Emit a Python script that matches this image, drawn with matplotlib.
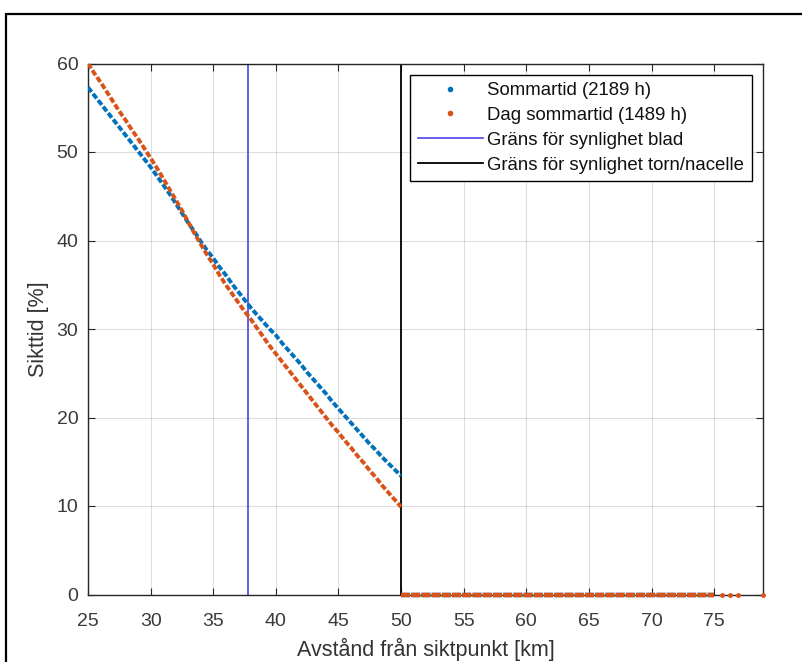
import matplotlib
matplotlib.use("Agg")
import matplotlib.pyplot as plt
from matplotlib.lines import Line2D
from matplotlib.patches import Rectangle

plt.rcParams['font.family'] = ['Liberation Sans', 'DejaVu Sans']

# ---------------- data ----------------
dist = [25.0, 25.5, 26.0, 26.5, 27.0, 27.5, 28.0, 28.5, 29.0, 29.5,
        30.0, 30.5, 31.0, 31.5, 32.0, 32.5, 33.0, 33.5, 34.0, 34.5,
        35.0, 35.5, 36.0, 36.5, 37.0, 37.5, 38.0, 38.5, 39.0, 39.5,
        40.0, 40.5, 41.0, 41.5, 42.0, 42.5, 43.0, 43.5, 44.0, 44.5,
        45.0, 45.5, 46.0, 46.5, 47.0, 47.5, 48.0, 48.5, 49.0, 49.5, 50.0]

sommartid = [57.3, 56.4, 55.5, 54.6, 53.7, 52.8, 51.9, 51.0, 50.1, 49.2,
             48.3, 47.3, 46.3, 45.3, 44.2, 43.1, 42.0, 41.0, 39.9, 38.9,
             38.0, 37.0, 36.1, 35.1, 34.2, 33.3, 32.4, 31.6, 30.8, 30.0,
             29.3, 28.4, 27.6, 26.8, 26.0, 25.1, 24.3, 23.5, 22.7, 21.8,
             21.0, 20.2, 19.4, 18.6, 17.8, 17.0, 16.3, 15.5, 14.8, 14.1, 13.4]

dag_sommartid = [60.0, 58.9, 57.9, 56.8, 55.7, 54.6, 53.6, 52.5, 51.5, 50.4,
                 49.3, 48.2, 47.0, 45.8, 44.6, 43.4, 42.1, 40.8, 39.6, 38.4,
                 37.3, 36.1, 35.0, 34.0, 33.0, 32.0, 31.1, 30.1, 29.1, 28.1,
                 27.2, 26.3, 25.4, 24.5, 23.6, 22.7, 21.8, 20.9, 20.0, 19.1,
                 18.3, 17.4, 16.6, 15.7, 14.9, 14.0, 13.2, 12.3, 11.5, 10.7, 9.9]

# beyond the tower/nacelle limit the visibility time is zero
tail_dist = [50.0, 50.5, 51.0, 51.5, 52.0, 52.5, 53.0, 53.5, 54.0, 54.5,
             55.0, 55.5, 56.0, 56.5, 57.0, 57.5, 58.0, 58.5, 59.0, 59.5,
             60.0, 60.5, 61.0, 61.5, 62.0, 62.5, 63.0, 63.5, 64.0, 64.5,
             65.0, 65.5, 66.0, 66.5, 67.0, 67.5, 68.0, 68.5, 69.0, 69.5,
             70.0, 70.5, 71.0, 71.5, 72.0, 72.5, 73.0, 73.5, 74.0, 74.5, 75.0]
tail_values = [0.0] * len(tail_dist)
sparse_dist = [75.6, 76.3, 76.9, 78.9]
sparse_values = [0.0, 0.0, 0.0, 0.0]

blade_limit = 37.74
tower_limit = 50.0

labels = ['Sommartid (2189 h)', 'Dag sommartid (1489 h)',
          'Gräns för synlighet blad', 'Gräns för synlighet torn/nacelle']
xticks = [25, 30, 35, 40, 45, 50, 55, 60, 65, 70, 75]
yticks = [0, 10, 20, 30, 40, 50, 60]

# ---------------- style ----------------
BLUE = '#0072BD'
ORANGE = '#D95319'
VBLUE = '#4646E6'
AXC = '#262626'

fig = plt.figure(figsize=(8.03, 6.62), dpi=100)
ax = fig.add_axes([88 / 803, 1 - 594.5 / 662, (763 - 88) / 803, (594.5 - 63.5) / 662])

dash = (0, (1.5, 0.6))
ax.plot(dist, sommartid, color=BLUE, lw=2.8, ls=dash, zorder=3)
ax.plot(dist, dag_sommartid, color=ORANGE, lw=2.8, ls=dash, zorder=3)
ax.plot(tail_dist, tail_values, color=BLUE, lw=3.2, ls=(0, (2.0, 0.3)), zorder=3, clip_on=False)
ax.plot(tail_dist, tail_values, color=ORANGE, lw=3.2, ls=(0, (2.0, 0.3)), zorder=4, clip_on=False)
ax.plot(sparse_dist, sparse_values, color=ORANGE, ls='none', marker='.', ms=5,
        zorder=4, clip_on=False)

ax.axvline(blade_limit, color=VBLUE, lw=1.2, zorder=2)
ax.axvline(tower_limit, color='black', lw=1.3, zorder=2)

ax.set_xlim(25, 78.9)
ax.set_ylim(0, 60)
ax.set_xticks(xticks)
ax.set_yticks(yticks)
ax.grid(True, color=AXC, alpha=0.15, lw=0.8)
ax.set_axisbelow(True)

for s in ax.spines.values():
    s.set_color(AXC)
    s.set_linewidth(1.0)
ax.tick_params(direction='in', length=5, width=0.8, colors=AXC,
               top=True, right=True, labelsize=14)
ax.tick_params(axis='x', pad=13)
ax.tick_params(axis='y', pad=7)
for t in ax.get_xticklabels() + ax.get_yticklabels():
    t.set_color('#3a3a3a')

ax.set_xlabel('Avstånd från siktpunkt [km]', fontsize=15.5, color='#333333', labelpad=6)
ax.set_ylabel('Sikttid [%]', fontsize=15.5, color='#333333', labelpad=5)

handles = [
    Line2D([], [], color=BLUE, marker='.', ls='none', ms=6),
    Line2D([], [], color=ORANGE, marker='.', ls='none', ms=6),
    Line2D([], [], color=VBLUE, lw=1.2),
    Line2D([], [], color='black', lw=1.3),
]
leg = ax.legend(handles, labels, loc='upper right', fontsize=13.4,
                frameon=True, fancybox=False, framealpha=1, edgecolor='black',
                borderaxespad=0.6, handlelength=3.5, handletextpad=0.25,
                labelspacing=0.42, borderpad=0.4)
leg.get_frame().set_linewidth(1.0)
for t in leg.get_texts():
    t.set_color('#111111')

# outer frame of the picture
fig.patches.append(Rectangle((6.5 / 803, -0.05), 1.2, 1 - 13.5 / 662 + 0.05,
                             transform=fig.transFigure, fill=False,
                             edgecolor='black', lw=1.6, clip_on=False))

fig.savefig('out.png', dpi=100)
